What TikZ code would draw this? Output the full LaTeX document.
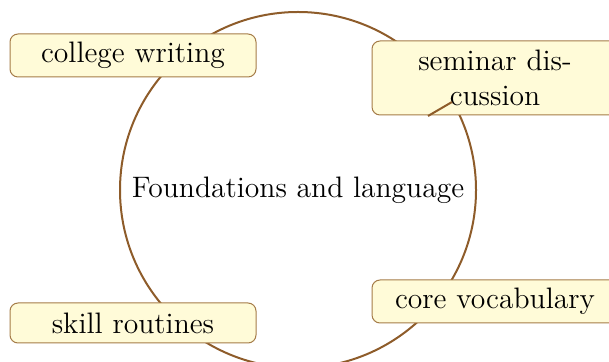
\documentclass[tikz,border=0pt]{standalone}
\definecolor{ringcol}{HTML}{8E5C2A}
\definecolor{boxfill}{HTML}{FFFBD8}
\definecolor{boxdraw}{HTML}{A57C48}
\begin{document}
\begin{tikzpicture}[x=0.5pt,y=-0.5pt,
  ring/.style={draw=ringcol,line width=1pt},
  topic/.style={draw=boxdraw,fill=boxfill,rounded corners=4pt,line width=0.5pt,
    minimum width=123pt,text width=115pt,align=center,inner sep=0pt,
    font=\fontsize{14.8}{17.5}\selectfont}]
\useasboundingbox (0,0) rectangle (609,362);
\node[ring,circle,minimum size=178pt,inner sep=0pt,font=\fontsize{14.8}{17.5}\selectfont] (c) at (298,190) {Foundations and language};
\node[topic,minimum height=21.5pt] (cw) at (133,55.5) {college writing};
\node[topic,minimum height=37pt] (sd) at (495,78) {seminar dis-\\cussion};
\node[topic,minimum height=21.5pt] (cv) at (495,301.5) {core vocabulary};
\node[topic,minimum height=20pt] (sr) at (133,323) {skill routines};
\coordinate (s1) at (428,116);
\coordinate (s2) at (452,102);
\draw[draw=ringcol,line width=1pt] (s1) -- (s2);
\end{tikzpicture}
\end{document}
